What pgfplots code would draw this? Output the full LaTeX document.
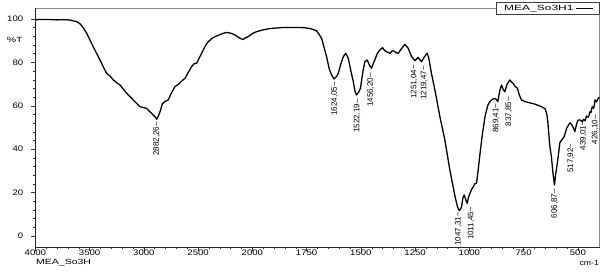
\documentclass[border=0pt]{standalone}
\usepackage{fontspec}
\setmainfont{Liberation Sans}
\newfontfamily\widefont[FakeStretch=1.2]{Liberation Sans}
\newfontfamily\cmfont[FakeStretch=1.15]{Liberation Sans}
\newfontfamily\widerfont[FakeStretch=1.4]{Liberation Sans}
\newfontfamily\legfont[FakeStretch=1.6]{Liberation Sans}
\usepackage{pgfplots}
\usepackage{pgfplotstable}
\pgfplotsset{compat=1.18}
\tikzset{pk/.style={rotate=90, anchor=east, inner sep=0pt, font=\fontsize{8}{9}\selectfont}}

\pgfplotstableread{
w y
4000 99.7
3900 99.8
3800 99.6
3720 99.7
3681 99.5
3620 98.8
3589 97.8
3560 96.0
3527 93.4
3467 87.2
3405 81.1
3370 77.5
3344 75.0
3310 73.6
3282 71.9
3250 70.6
3220 69.6
3190 67.7
3159 65.8
3098 62.7
3037 59.6
3000 59.1
2974 58.8
2950 57.5
2928 56.5
2910 55.5
2895 54.8
2882 53.8
2865 55.5
2850 57.5
2830 60.8
2806 62.0
2776 62.7
2745 66.0
2714 68.8
2680 70.0
2650 71.5
2621 72.7
2590 75.5
2560 78.0
2540 79.3
2514 79.6
2490 82.0
2453 85.7
2430 88.0
2407 89.5
2370 91.2
2329 92.2
2280 93.2
2240 93.8
2222 93.7
2190 93.3
2161 92.6
2120 91.3
2095 90.7
2084 90.6
2060 91.4
2038 91.9
2000 93.3
1980 94.2
1950 95.0
1919 95.6
1858 96.1
1789 96.1
1760 96.0
1734 95.6
1715 95.0
1704 94.5
1692 92.8
1681 91.1
1670 87.0
1658 82.6
1646 77.0
1635 74.2
1624 72.4
1612 73.5
1604 75.0
1592 79.5
1581 82.6
1570 84.2
1558 81.9
1546 76.0
1535 71.1
1527 66.5
1520 65.0
1510 66.3
1502 68.1
1492 75.0
1482 80.3
1471 81.1
1462 79.0
1451 77.3
1443 79.5
1436 81.1
1425 84.0
1413 85.7
1400 86.8
1391 85.5
1381 84.9
1366 84.2
1356 85.3
1348 85.3
1338 84.5
1328 84.2
1312 86.5
1297 88.3
1282 86.5
1266 82.6
1251 80.8
1244 81.5
1236 82.3
1228 81.2
1220 80.3
1208 82.5
1195 84.2
1187 81.9
1175 75.0
1159 67.3
1136 55.0
1113 44.2
1090 30.4
1066 18.1
1055 13.5
1047 11.7
1040 12.5
1036 13.5
1030 17.5
1024 18.9
1016 16.5
1010 15.0
1004 18.0
997 19.7
990 21.5
982 22.7
976 24.0
967 24.3
960 30.0
951 38.1
940 47.0
928 55.0
916 60.0
906 61.9
895 63.0
883 63.4
876 63.0
869 61.9
860 67.0
852 69.6
844 67.5
837 66.5
826 70.0
814 71.9
806 71.0
799 70.4
790 69.0
779 68.1
770 65.0
760 62.7
745 62.0
730 61.6
699 60.8
667 59.6
650 58.5
643 56.0
638 51.9
630 42.0
622 36.5
615 29.0
608 23.5
603 28.0
597 32.0
591 36.5
583 43.0
575 44.2
563 45.8
552 49.6
537 52.2
530 51.5
522 50.1
514 48.1
510 50.0
503 52.5
498 53.5
490 53.5
480 52.7
474 53.8
467 53.1
460 55.3
452 54.7
444 57.3
440 56.8
434 59.6
427 58.8
421 62.7
414 61.8
406 63.5
400 63.9
}\spectrum

\begin{document}
\begin{tikzpicture}
\useasboundingbox (0,0) rectangle (608pt,274pt);
\begin{axis}[
  at={(35.4pt,27.15pt)}, anchor=south west,
  scale only axis, width=564.2pt, height=238.7pt,
  xmin=0, xmax=5200, ymin=-5, ymax=105,
  xtick={0,500,...,5000},
  xticklabels={4000,3500,3000,2500,2000,1750,1500,1250,1000,750,500},
  ytick={0,20,...,100},
  minor x tick num=4, minor y tick num=4,
  tick align=outside, xtick pos=bottom, ytick pos=left,
  major tick length=4pt, minor tick length=2.5pt,
  tick style={black!80, line width=0.5pt},
  axis line style={draw=black!45, line width=0.6pt},
  /pgf/number format/assume math mode=true,
  ticklabel style={font=\widefont\fontsize{8}{9}\selectfont, text=black},
  xticklabel style={inner sep=0pt, yshift=1.5pt},
  yticklabel style={inner sep=0pt, xshift=-8pt},
  clip=false,
  legend plot pos=right,
  legend image code/.code={\draw[black, line width=0.5pt] (0pt,0pt) -- (17pt,0pt);},
  legend style={at={(axis description cs:0.9995,1.025)}, anchor=north east,
    draw=black!75, line width=0.5pt, fill=white,
    font=\legfont\fontsize{7.5}{8}\selectfont, inner xsep=6pt, inner ysep=0.5pt},
]
\addplot[black, line width=1.3pt, line join=round]
  table[x expr={\thisrow{w}>=2000 ? 4000-\thisrow{w} : 6000-2*\thisrow{w}}, y=y] {\spectrum};
\addlegendentry{MEA\_So3H1}
\draw[black!85, line width=0.7pt] (rel axis cs:0,1) -- (rel axis cs:0,0) -- (rel axis cs:1,0);
\node[pk] at (axis cs:1118,52.5) {2882,26–};
\node[pk] at (axis cs:2758,71) {1624,05–};
\node[pk] at (axis cs:2966,63) {1522,19–};
\node[pk] at (axis cs:3090,75) {1456,20–};
\node[pk] at (axis cs:3490,78.8) {1251,04\textasciitilde};
\node[pk] at (axis cs:3582,78.3) {1219,47\textasciitilde};
\node[pk] at (axis cs:3898,11.2) {1047,31\textasciitilde};
\node[pk] at (axis cs:4016,13.5) {1011,45\textasciitilde};
\node[pk] at (axis cs:4246,61.1) {869,41\textasciitilde};
\node[pk] at (axis cs:4364,64.2) {837,85\textasciitilde};
\node[pk] at (axis cs:4786,21.7) {606,87–};
\node[pk] at (axis cs:4936,42.7) {517,92\textasciitilde};
\node[pk] at (axis cs:5050,53) {439,01\textasciitilde};
\node[pk] at (axis cs:5158,55.8) {426,10–};
\end{axis}
\node[font=\widerfont\fontsize{7.5}{8}\selectfont] at (14.7pt,234pt) {\%T};
\node[anchor=west, inner sep=0pt, font=\widerfont\fontsize{7.5}{8}\selectfont] at (36pt,11.5pt) {MEA\_So3H};
\node[anchor=east, inner sep=0pt, font=\cmfont\fontsize{7.5}{8}\selectfont] at (599pt,11.5pt) {cm-1};
\end{tikzpicture}
\end{document}
